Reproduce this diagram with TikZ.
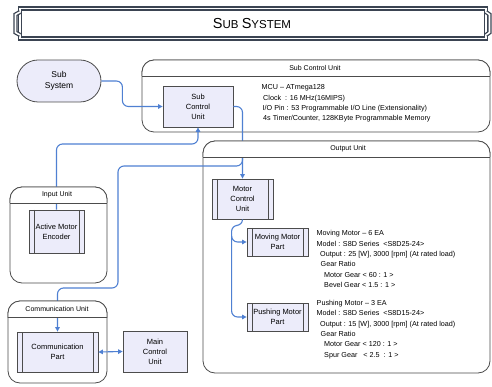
\documentclass[tikz,border=0pt]{standalone}
\usepackage{fontspec}
\setmainfont{Liberation Sans}
\usetikzlibrary{arrows.meta,positioning}
\definecolor{lav}{HTML}{ECECFA}
\definecolor{flow}{HTML}{4F80D2}
\definecolor{slate}{HTML}{3B4452}
\tikzset{
  box/.style={draw=black!70, fill=lav, line width=0.8pt, align=center, inner sep=1pt,
    font=\fontsize{7.5}{10}\selectfont},
  predef/.style={box, path picture={
      \draw[black!70, line width=0.7pt]
        ([xshift=5pt]path picture bounding box.north west) -- ([xshift=5pt]path picture bounding box.south west)
        ([xshift=-5pt]path picture bounding box.north east) -- ([xshift=-5pt]path picture bounding box.south east);}},
  terminal/.style={box, rounded corners=21pt, minimum width=84pt, minimum height=42pt,
    font=\fontsize{8.5}{11}\selectfont},
  unit/.style={draw=black!70, fill=white, line width=0.8pt, rounded corners=12pt, inner sep=0pt, outer sep=0pt},
  unittitle/.style={inner sep=0pt, font=\fontsize{7}{8}\selectfont},
  spec/.style={inner sep=0pt, align=left, anchor=west, font=\fontsize{7.2}{10.3}\selectfont},
  link/.style={draw=flow, line width=1.1pt, rounded corners=6pt, -{Triangle[length=4.5pt,width=4.5pt]}},
  dlink/.style={draw=flow, line width=1.1pt, {Triangle[length=4.5pt,width=4.5pt]}-{Triangle[length=4.5pt,width=4.5pt]}},
  banner/.style={draw=slate, line width=1.3pt, double=white, double distance=1.6pt, line join=miter}
}
% header band of a unit, drawn over the flows
\newcommand{\unithead}[1]{%
  \begin{scope}
    \clip ([shift={(-2,-2)}]#1.north west) rectangle ([shift={(2,16)}]#1.north east);
    \draw[unit] (#1.north west) rectangle (#1.south east);
  \end{scope}
  \draw[unit] ([yshift=-16pt]#1.north west) -- ([yshift=-16pt]#1.north east);}
\begin{document}
\begin{tikzpicture}[x=1pt, y=-1pt]
  \useasboundingbox (0,0) rectangle (492,387);

  %%%%% TITLE %%%%%
  \draw[banner] (20,8.5) rectangle (486,38.5);
  \draw[banner] (20,12) -- (15.5,14.5) -- (15.5,32.5) -- (20,35);
  \draw[banner] (486,12) -- (489.5,14.5) -- (489.5,32.5) -- (486,35);
  \node[inner sep=0pt] (title) at (252,24)
    {\fontsize{14.5}{15}\selectfont S\fontsize{11.5}{15}\selectfont UB \fontsize{14.5}{15}\selectfont S\fontsize{11.5}{15}\selectfont YSTEM};

  %%%%% UNITS %%%%%
  \node[unit, minimum width=348pt, minimum height=72pt] (scuU) at (316,96) {};
  \node[unit, minimum width=287pt, minimum height=232pt] (outU) at (346.5,257) {};
  \node[unit, minimum width=97pt, minimum height=96pt] (inU) at (58.5,235) {};
  \node[unit, minimum width=99pt, minimum height=82pt] (comU) at (57.5,342) {};

  %%%%% BLOCKS %%%%%
  \node[terminal] (subsys) at (59,81) {Sub\\System};
  \node[box, minimum width=70pt, minimum height=41pt] (scu) at (198,106.5) {Sub\\Control\\Unit};
  \node[predef, minimum width=61pt, minimum height=40pt] (mcu) at (242.5,199) {Motor\\Control\\Unit};
  \node[predef, minimum width=61pt, minimum height=28pt] (mmp) at (277.5,242) {Moving Motor\\Part};
  \node[predef, minimum width=61pt, minimum height=28pt] (pmp) at (277.5,317) {Pushing Motor\\Part};
  \node[predef, minimum width=55pt, minimum height=43pt] (ame) at (56.5,231.5) {Active Motor\\Encoder};
  \node[predef, minimum width=81pt, minimum height=40pt] (cp) at (57.5,352) {Communication\\Part};
  \node[box, minimum width=64pt, minimum height=41pt] (mcb) at (155,351.5) {Main\\Control\\Unit};

  %%%%% SPECS %%%%%
  \node[spec] (scuS) at (261.5,103.5) {MCU -- ATmega128\\
    \hspace*{1.5pt}Clock\ \ : 16 MHz(16MIPS)\\
    \hspace*{1pt}I/O Pin : 53 Programmable I/O Line (Extensionality)\\
    \hspace*{1.5pt}4s Timer/Counter, 128KByte Programmable Memory};
  \node[spec] (mmpS) at (316.5,259) {Moving Motor -- 6 EA\\
    Model : S8D Series\ \ {<}S8D25-24{>}\\
    \hspace*{3.5pt}Output : 25 [W], 3000 [rpm] (At rated load)\\
    \hspace*{4pt}Gear Ratio\\
    \hspace*{7.5pt}Motor Gear {<} 60 : 1 {>}\\
    \hspace*{7.5pt}Bevel Gear {<} 1.5 : 1 {>}};
  \node[spec] (pmpS) at (316.5,329.5) {Pushing Motor -- 3 EA\\
    Model : S8D Series\ \ {<}S8D15-24{>}\\
    \hspace*{3.5pt}Output : 15 [W], 3000 [rpm] (At rated load)\\
    \hspace*{4pt}Gear Ratio\\
    \hspace*{7.5pt}Motor Gear {<} 120 : 1 {>}\\
    \hspace*{7.5pt}Spur Gear\ \ \ {<} 2.5\ \ : 1 {>}};

  %%%%% FLOWS %%%%%
  \coordinate (brk) at (242.5,158);
  \draw[link] (subsys.east) -- ++(21,0) |- (scu.west);
  \draw[link] (scu.east) -| (mcu.north);
  \draw[link] (brk) |- (118,166) -- (118,288) -| (cp.north);
  \draw[link] (ame.north) |- (198,144) -- (scu.south);
  \draw[link] (mcu.south) -- ++(0,6) -| ([xshift=-15pt]pmp.west) -- (pmp.west);
  \draw[link] ([xshift=-15pt,yshift=6pt]mmp.west) |- (mmp.west);
  \draw[dlink] (cp.east) -- (mcb.west);

  %%%%% HEADERS %%%%%
  \unithead{scuU}
  \node[unittitle] (scuT) at (315,68) {Sub Control Unit};
  \unithead{outU}
  \node[unittitle] (outT) at (348,149) {Output Unit};
  \unithead{inU}
  \node[unittitle] (inT) at (57,195) {Input Unit};
  \unithead{comU}
  \node[unittitle] (comT) at (57,309) {Communication Unit};
\end{tikzpicture}
\end{document}
